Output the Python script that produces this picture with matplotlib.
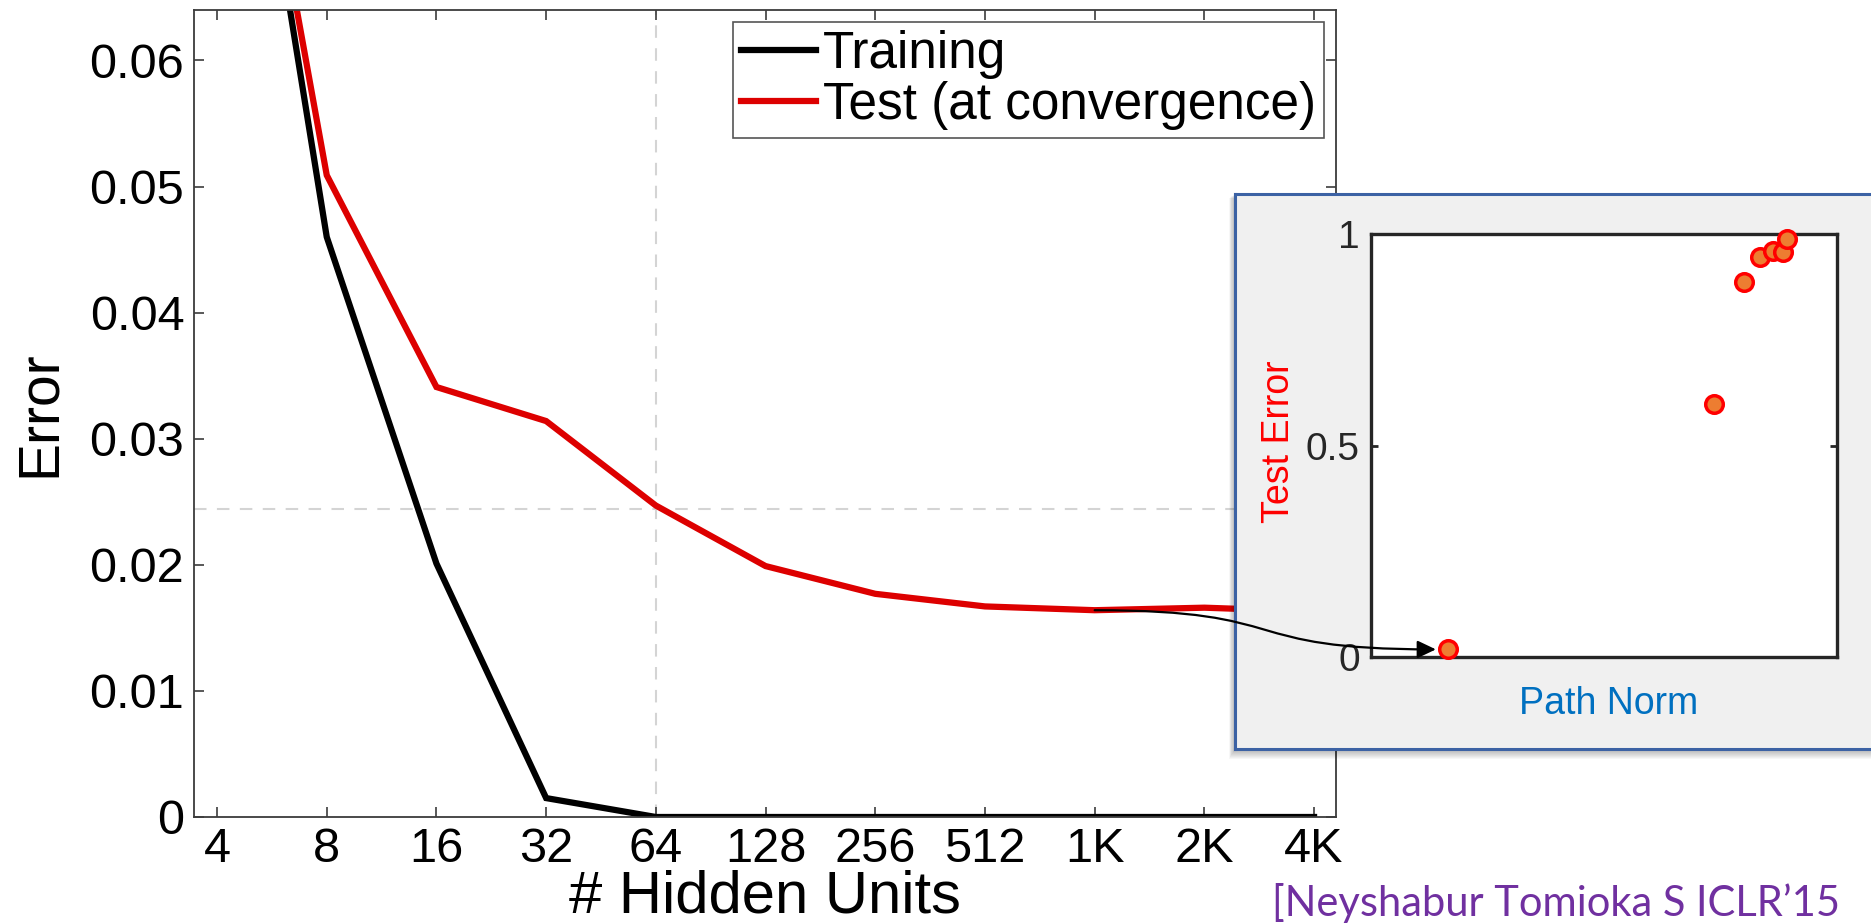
import numpy as np
import matplotlib
matplotlib.use('Agg')
import matplotlib.pyplot as plt
from matplotlib.patches import Rectangle, FancyArrowPatch
from matplotlib.path import Path
from matplotlib.transforms import IdentityTransform

plt.rcParams['font.family'] = ['Liberation Sans', 'DejaVu Sans']

# error vs. network width
hidden_units = [4, 8, 16, 32, 64, 128, 256, 512, 1024, 2048, 4096]
unit_labels = ['4', '8', '16', '32', '64', '128', '256', '512', '1K', '2K', '4K']
train_err = [0.0998, 0.0460, 0.0201, 0.0015, 0.0, 0.0, 0.0, 0.0, 0.0, 0.0, 0.0]
test_err = [0.0990, 0.0509, 0.0341, 0.0314, 0.0247, 0.0199, 0.0177, 0.0167, 0.0164, 0.0166, 0.0163]
err_ticks = [0, 0.01, 0.02, 0.03, 0.04, 0.05, 0.06]
err_labels = ['0', '0.01', '0.02', '0.03', '0.04', '0.05', '0.06']
ref_units = 64
ref_err = 0.0244

# path norm vs. test error (normalised)
path_norm = [0.165, 0.737, 0.800, 0.835, 0.862, 0.885, 0.893]
norm_test_err = [0.018, 0.599, 0.887, 0.946, 0.960, 0.957, 0.988]

W, H = 1871, 923
fig = plt.figure(figsize=(W / 100, H / 100), dpi=100)


def box(l, t, r, b):
    # pixel box (from top-left) -> figure fraction
    return [l / W, 1 - b / H, (r - l) / W, (b - t) / H]


ax = fig.add_axes(box(194, 10, 1336, 817))
ax.set_xscale('log', base=2)
ax.axvline(ref_units, color='#d4d4d4', lw=1.5, ls=(0, (6, 5)), zorder=0)
ax.axhline(ref_err, color='#d4d4d4', lw=1.5, ls=(0, (6, 5)), zorder=0)
ax.plot(hidden_units, train_err, color='black', lw=4.5, solid_joinstyle='miter', label='Training')
ax.plot(hidden_units, test_err, color='#dd0000', lw=4.5, solid_joinstyle='miter', label='Test (at convergence)')

ax.set_xlim(2 ** 1.79, 2 ** 12.2)
ax.set_ylim(0, 0.064)
ax.set_xticks(hidden_units)
ax.set_xticklabels(unit_labels)
ax.minorticks_off()
ax.set_yticks(err_ticks)
ax.set_yticklabels(err_labels)
ax.tick_params(direction='in', length=7, width=1.2, top=True, right=True,
               labelsize=35, color='#3c3c3c', pad=7)
for s in ax.spines.values():
    s.set_color('#3c3c3c')
    s.set_linewidth(1.3)

ax.set_xlabel('# Hidden Units', fontsize=43)
ax.xaxis.set_label_coords(0.5, -0.099)
ax.xaxis.label.set_va('center')
ax.set_ylabel('Error', fontsize=41)
ax.yaxis.set_label_coords(-0.135, 0.5)
ax.yaxis.label.set_va('center')

leg = ax.legend(loc='upper right', bbox_to_anchor=(1324 / W, 1 - 22 / H),
                bbox_transform=fig.transFigure, fontsize=37, frameon=True,
                fancybox=False, framealpha=1, edgecolor='#555555',
                handlelength=1.45, handletextpad=0.15, labelspacing=0.05,
                borderpad=0.15, borderaxespad=0)
leg.get_frame().set_linewidth(1.2)

# soft shadow under the side panel
for i in range(1, 11):
    fig.add_artist(Rectangle(((1235 - i * 0.6) / W, 1 - (749 + i) / H),
                             700 / W, (555 + i * 0.6) / H,
                             transform=fig.transFigure, facecolor='black',
                             edgecolor='none', alpha=0.03, zorder=4))

pax = fig.add_axes(box(1235, 194, 1890, 749), zorder=5)
pax.set_facecolor('#f0f0f0')
pax.set_xticks([])
pax.set_yticks([])
for s in pax.spines.values():
    s.set_color('#3c62a4')
    s.set_linewidth(2.2)

iax = fig.add_axes(box(1371, 234, 1837, 657), zorder=6)
iax.scatter(path_norm, norm_test_err, s=160, c='#ED7D31', edgecolors='#FF0000',
            linewidths=2.5, zorder=3, clip_on=False)
iax.set_xlim(0, 1)
iax.set_ylim(0, 1)
iax.set_xticks([])
iax.set_yticks([0, 0.5, 1])
iax.set_yticklabels(['0', '0.5', '1'])
iax.tick_params(axis='y', direction='in', length=5, width=2, right=True,
                labelsize=28, labelcolor='#262626', color='#262626', pad=8)
for s in iax.spines.values():
    s.set_color('#262626')
    s.set_linewidth(2.4)
iax.set_ylabel('Test Error', fontsize=27, color='#FF0000')
iax.yaxis.set_label_coords(-0.197, 0.51)
iax.yaxis.label.set_va('center')
iax.set_xlabel('Path Norm', fontsize=27, color='#0070C0')
iax.xaxis.set_label_coords(0.509, -0.111)
iax.xaxis.label.set_va('center')

# curved pointer from the 1K test error to its point in the panel
p0 = ax.transData.transform((hidden_units[8], test_err[8]))
p3 = iax.transData.transform((path_norm[0], norm_test_err[0])) - np.array([12, 0])
dx = p3[0] - p0[0]
verts = [p0, p0 + [0.6 * dx, 0], p3 - [0.6 * dx, 0], p3]
codes = [Path.MOVETO, Path.CURVE4, Path.CURVE4, Path.CURVE4]
arrow = FancyArrowPatch(path=Path(verts, codes),
                        arrowstyle='-|>,head_length=0.8,head_width=0.38',
                        mutation_scale=14, color='black', lw=1.6,
                        transform=IdentityTransform(), zorder=20)
fig.add_artist(arrow)

fig.text(1272 / W, 1 - 903 / H, '[Neyshabur Tomioka S ICLR\u201915',
         color='#7030A0', fontsize=30, family=['Lato', 'DejaVu Sans'],
         va='center', ha='left')

fig.savefig('out.png', dpi=100)
